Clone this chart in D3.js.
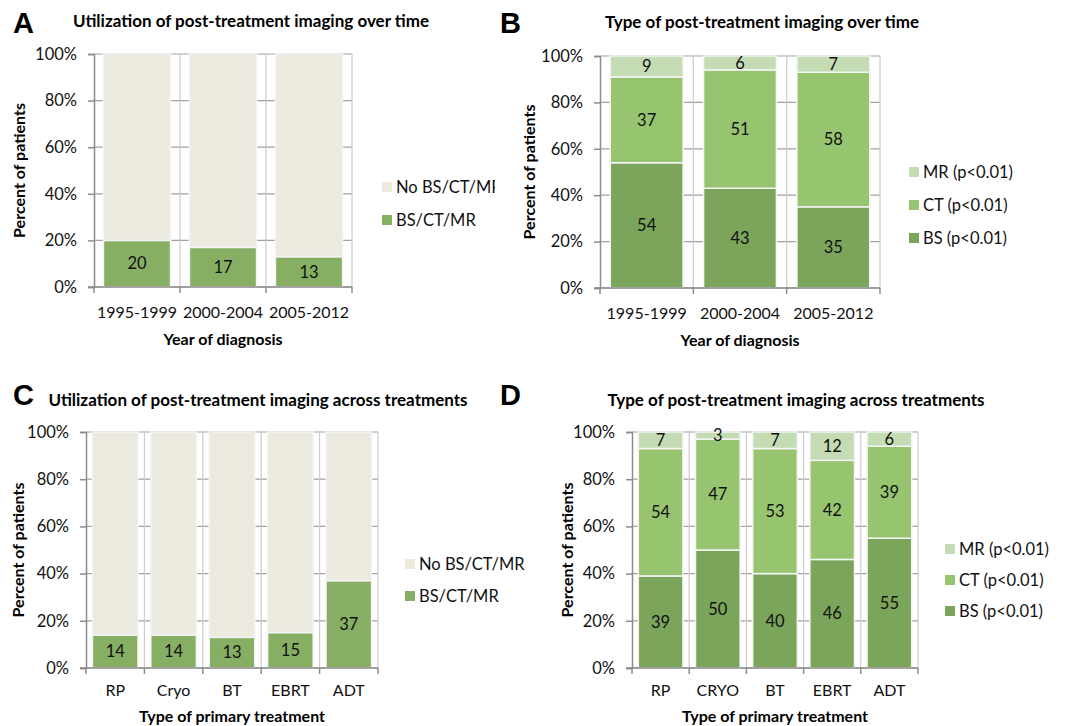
<!DOCTYPE html>
<html>
<head>
<meta charset="utf-8">
<script src="https://cdn.jsdelivr.net/npm/d3@7"></script>
<style>
  body { margin: 0; background: #fff; }
  text { font-family: Lato, "Open Sans", sans-serif; }
</style>
</head>
<body>
<div id="chart"></div>
<script>
// Data
const periods = ["1995-1999", "2000-2004", "2005-2012"];
const imagingByPeriod = [20, 17, 13];
const bsByPeriod = [54, 43, 35];
const ctByPeriod = [37, 51, 58];
const mrByPeriod = [9, 6, 7];

const treatmentsC = ["RP", "Cryo", "BT", "EBRT", "ADT"];
const imagingByTreatment = [14, 14, 13, 15, 37];

const treatmentsD = ["RP", "CRYO", "BT", "EBRT", "ADT"];
const bsByTreatment = [39, 50, 40, 46, 55];
const ctByTreatment = [54, 47, 53, 42, 39];
const mrByTreatment = [7, 3, 7, 12, 6];

const yTicks = [0, 20, 40, 60, 80, 100];

const colors = {
  none: "#ece9df",
  any: "#86af64",
  bs: "#7ba55a",
  ct: "#97c56f",
  mr: "#c4dcb3",
};

const svg = d3
  .select("#chart")
  .append("svg")
  .attr("width", 1066)
  .attr("height", 726)
  .style("display", "block");

svg.append("rect").attr("width", 1066).attr("height", 726).attr("fill", "#fff");

const defs = svg.append("defs");
defs.append("clipPath").attr("id", "clipA")
  .append("rect").attr("x", 0).attr("y", 0).attr("width", 495).attr("height", 360);

function drawPanel(p) {
  const g = svg.append("g");

  // panel letter + title
  svg.append("text")
    .attr("x", p.letterX).attr("y", p.letterY)
    .style("font-family", "'Liberation Sans', Arial, sans-serif")
    .style("font-weight", "bold").style("font-size", "29px")
    .text(p.letter);
  g.append("text")
    .attr("x", p.titleX).attr("y", p.titleY)
    .attr("text-anchor", "middle")
    .style("font-weight", "bold").style("font-size", "17px")
    .text(p.title);

  const xScale = d3.scaleBand().domain(p.categories).range([p.left, p.right]);
  const yScale = d3.scaleLinear().domain([0, 100]).range([p.bottom, p.top]);

  // grid lines
  g.append("g").selectAll("line").data(yTicks).join("line")
    .attr("x1", p.left).attr("x2", p.right)
    .attr("y1", (d) => yScale(d)).attr("y2", (d) => yScale(d))
    .attr("stroke", "#a0a0a0").attr("stroke-width", 1.2);
  const bounds = p.categories.map((c) => xScale(c)).concat([p.right]);
  g.append("g").selectAll("line").data(bounds.slice(1)).join("line")
    .attr("x1", (d) => d).attr("x2", (d) => d)
    .attr("y1", p.top).attr("y2", p.bottom)
    .attr("stroke", "#cccccc").attr("stroke-width", 1.2);

  // stacked bars
  const rows = p.categories.map((c, i) => {
    const r = { cat: c };
    p.series.forEach((s) => (r[s.key] = s.values[i]));
    return r;
  });
  const stack = d3.stack().keys(p.series.map((s) => s.key));
  const layers = stack(rows);
  const barW = xScale.bandwidth() * 0.78;

  layers.forEach((layer, li) => {
    const s = p.series[li];
    const lg = g.append("g");
    lg.selectAll("rect").data(layer).join("rect")
      .attr("x", (d) => xScale(d.data.cat) + (xScale.bandwidth() - barW) / 2)
      .attr("y", (d) => yScale(d[1]))
      .attr("width", barW)
      .attr("height", (d) => yScale(d[0]) - yScale(d[1]))
      .attr("fill", s.color)
      .attr("stroke", "#f4f4f4").attr("stroke-width", 1.5);
    if (s.label) {
      lg.selectAll("text").data(layer).join("text")
        .attr("x", (d) => xScale(d.data.cat) + xScale.bandwidth() / 2)
        .attr("y", (d) => yScale((d[0] + d[1]) / 2))
        .attr("dy", "0.35em")
        .attr("text-anchor", "middle")
        .style("font-size", "16.5px").attr("fill", "#111")
        .text((d) => d[1] - d[0]);
    }
  });

  // axes
  const leftAxis = d3.axisLeft(yScale).tickValues(yTicks)
    .tickFormat((d) => d + "%").tickSize(6).tickPadding(11);
  const yAxisGroup = g.append("g").attr("transform", `translate(${p.left},0)`).call(leftAxis);
  yAxisGroup.select(".domain").attr("stroke", "#8c8c8c").attr("stroke-width", 1.5);
  yAxisGroup.selectAll(".tick line").attr("stroke", "#8c8c8c").attr("stroke-width", 1.5);
  yAxisGroup.selectAll(".tick text").style("font-size", "16.5px").style("font-family", "Lato, sans-serif").attr("fill", "#111");

  const xAxisGroup = g.append("g").attr("transform", `translate(0,${p.bottom})`);
  xAxisGroup.append("line")
    .attr("x1", p.left - 6).attr("x2", p.right)
    .attr("stroke", "#8c8c8c").attr("stroke-width", 1.5);
  xAxisGroup.selectAll(".bt").data(bounds).join("line").attr("class", "bt")
    .attr("x1", (d) => d).attr("x2", (d) => d).attr("y1", 0).attr("y2", 6)
    .attr("stroke", "#8c8c8c").attr("stroke-width", 1.5);
  xAxisGroup.selectAll("text").data(p.categories).join("text")
    .attr("x", (d) => xScale(d) + xScale.bandwidth() / 2)
    .attr("y", p.xTickY - p.bottom)
    .attr("text-anchor", "middle")
    .style("font-size", "16px").attr("fill", "#111")
    .text((d) => d);

  // axis titles
  g.append("text")
    .attr("transform", `translate(${p.yLabelX},${(p.top + p.bottom) / 2}) rotate(-90)`)
    .attr("text-anchor", "middle")
    .style("font-weight", "bold").style("font-size", "16px")
    .text("Percent of patients");
  g.append("text")
    .attr("x", (p.left + p.right) / 2).attr("y", p.xLabelY)
    .attr("text-anchor", "middle")
    .style("font-weight", "bold").style("font-size", "16px")
    .text(p.xLabel);

  // legend (top item = last series)
  const legend = svg.append("g");
  if (p.clip) legend.attr("clip-path", `url(#${p.clip})`);
  const items = p.series.slice().reverse();
  items.forEach((s, i) => {
    const cy = p.legendY + i * p.legendGap;
    legend.append("rect")
      .attr("x", p.legendX).attr("y", cy - 5)
      .attr("width", 10).attr("height", 10)
      .attr("fill", s.color);
    legend.append("text")
      .attr("x", p.legendX + 14).attr("y", cy)
      .attr("dy", "0.35em")
      .style("font-size", "16.5px").attr("fill", "#111")
      .text(s.name);
  });
}

// A
drawPanel({
  letter: "A", letterX: 13, letterY: 33,
  title: "Utilization of post-treatment imaging over time", titleX: 251, titleY: 27,
  categories: periods,
  left: 94, right: 352, top: 54, bottom: 287,
  xTickY: 318, xLabelY: 345, yLabelX: 25, xLabel: "Year of diagnosis",
  series: [
    { key: "any", name: "BS/CT/MR", values: imagingByPeriod, color: colors.any, label: true },
    { key: "none", name: "No BS/CT/MR", values: imagingByPeriod.map((v) => 100 - v), color: colors.none, label: false },
  ],
  legendX: 382, legendY: 187, legendGap: 33, clip: "clipA",
});

// B
drawPanel({
  letter: "B", letterX: 500, letterY: 33,
  title: "Type of post-treatment imaging over time", titleX: 762, titleY: 28,
  categories: periods,
  left: 600, right: 880, top: 56, bottom: 288,
  xTickY: 319, xLabelY: 346, yLabelX: 535, xLabel: "Year of diagnosis",
  series: [
    { key: "bs", name: "BS (p<0.01)", values: bsByPeriod, color: colors.bs, label: true },
    { key: "ct", name: "CT (p<0.01)", values: ctByPeriod, color: colors.ct, label: true },
    { key: "mr", name: "MR (p<0.01)", values: mrByPeriod, color: colors.mr, label: true },
  ],
  legendX: 909, legendY: 172, legendGap: 33,
});

// C
drawPanel({
  letter: "C", letterX: 13, letterY: 405,
  title: "Utilization of post-treatment imaging across treatments", titleX: 258, titleY: 406,
  categories: treatmentsC,
  left: 86, right: 378, top: 432, bottom: 668,
  xTickY: 696, xLabelY: 722, yLabelX: 24, xLabel: "Type of primary treatment",
  series: [
    { key: "any", name: "BS/CT/MR", values: imagingByTreatment, color: colors.any, label: true },
    { key: "none", name: "No BS/CT/MR", values: imagingByTreatment.map((v) => 100 - v), color: colors.none, label: false },
  ],
  legendX: 405, legendY: 564, legendGap: 32,
});

// D
drawPanel({
  letter: "D", letterX: 500, letterY: 405,
  title: "Type of post-treatment imaging across treatments", titleX: 796, titleY: 406,
  categories: treatmentsD,
  left: 632, right: 918, top: 432, bottom: 668,
  xTickY: 696, xLabelY: 722, yLabelX: 573, xLabel: "Type of primary treatment",
  series: [
    { key: "bs", name: "BS (p<0.01)", values: bsByTreatment, color: colors.bs, label: true },
    { key: "ct", name: "CT (p<0.01)", values: ctByTreatment, color: colors.ct, label: true },
    { key: "mr", name: "MR (p<0.01)", values: mrByTreatment, color: colors.mr, label: true },
  ],
  legendX: 945, legendY: 549, legendGap: 31,
});
</script>
</body>
</html>
